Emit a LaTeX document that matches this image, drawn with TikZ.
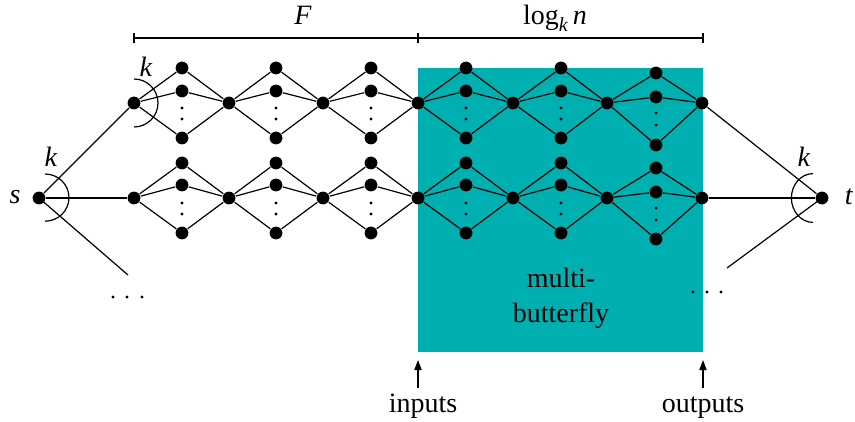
\documentclass[tikz,border=0pt]{standalone}
\usepackage{fontspec}
\setmainfont{Liberation Serif}
\usetikzlibrary{arrows.meta}
\definecolor{tealbox}{RGB}{0,176,176}
\begin{document}
\begin{tikzpicture}[x=0.5pt,y=-0.5pt,line width=0.6pt,
  dot/.style={circle,fill=black,inner sep=0pt,minimum size=6.4pt},
  tinydot/.style={circle,fill=black,inner sep=0pt,minimum size=1.7pt},
  lbl/.style={font=\fontsize{14}{16}\selectfont,inner sep=0pt},
  arr/.style={-{Triangle[length=5pt,width=3.6pt]}}]
\useasboundingbox (0,0) rectangle (855,422);
% multibutterfly box
\fill[tealbox] (418,68) rectangle (703,352);
% hubs
\foreach \i/\x in {0/134,1/229,2/323,3/418,4/513,5/607,6/702}{
  \node[dot] (T\i) at (\x,103) {};
  \node[dot] (B\i) at (\x,198) {};
}
% fan nodes
\foreach \c/\x/\ta/\tb/\td/\te/\tc/\ba/\bb/\bd/\be/\bc in {
  1/182/68/91/108/119/138/163/185/203/214/233,
  2/276/68/91/108/119/138/163/185/203/214/233,
  3/371/68/91/108/119/138/163/185/203/214/233,
  4/466/68/91/108/119/138/163/185/203/214/233,
  5/561/68/91/108/119/138/163/185/203/214/233,
  6/656/73/97/113/125/145/168/192/208/220/239}{
  \node[dot] (T\c a) at (\x,\ta) {};
  \node[dot] (T\c b) at (\x,\tb) {};
  \node[dot] (T\c c) at (\x,\tc) {};
  \node[tinydot] (T\c d) at (\x,\td) {};
  \node[tinydot] (T\c e) at (\x,\te) {};
  \node[dot] (B\c a) at (\x,\ba) {};
  \node[dot] (B\c b) at (\x,\bb) {};
  \node[dot] (B\c c) at (\x,\bc) {};
  \node[tinydot] (B\c d) at (\x,\bd) {};
  \node[tinydot] (B\c e) at (\x,\be) {};
}
% butterfly edges
\foreach \c [evaluate=\c as \p using int(\c-1)] in {1,...,6}{
  \foreach \r in {T,B}{
    \foreach \f in {a,b,c}{
      \draw (\r\p) -- (\r\c\f) -- (\r\c);
    }
  }
}
% source and sink
\node[dot] (s) at (39,198) {};
\node[dot] (t) at (822,198) {};
\coordinate (sl) at (128,275);
\coordinate (tl) at (727,268);
\draw (s) -- (T0);
\draw (s) -- (B0);
\draw (s.center) -- (sl);
\draw (t) -- (T6);
\draw (t) -- (B6);
\draw (t.center) -- (tl);
% degree arcs
\draw ([shift={(6,0)}]s.center) ++(0pt,12pt) arc[start angle=90,end angle=-90,x radius=12pt,y radius=11.8pt];
\draw (T0.center) ++(0pt,12pt) arc[start angle=90,end angle=-90,radius=12pt];
\draw ([shift={(-9,0)}]t.center) ++(0pt,12.2pt) arc[start angle=90,end angle=270,x radius=10.8pt,y radius=12.2pt];
% ellipses
\foreach \x [count=\j] in {113,127,142}{\node[tinydot] (ls\j) at (\x,297) {};}
\foreach \x [count=\j] in {693,707,721}{\node[tinydot] (rs\j) at (\x,292) {};}
% labels
\node[lbl] (sL) at (15,197) {\textit{s}};
\node[lbl] (tL) at (849,197) {\textit{t}};
\node[lbl] (k1) at (51,157) {\textit{k}};
\node[lbl] (k2) at (146,67) {\textit{k}};
\node[lbl] (k3) at (804,157) {\textit{k}};
% brackets
\coordinate (f0) at (134,38);
\coordinate (f1) at (418,38);
\coordinate (f2) at (703,38);
\draw (f0) -- (f2);
\foreach \p in {f0,f1,f2}{\draw ([yshift=-2.5pt]\p) -- ([yshift=2.5pt]\p);}
\node[lbl,anchor=base] (Fl) at (303,25) {\textit{F}};
\node[lbl,anchor=base] (Ll) at (555,25) {log\raisebox{-3.5pt}{\fontsize{10}{12}\selectfont\textit{k}}\,\textit{n}};
% box text
\node[lbl,align=center] (mb) at (561,298) {multi-\\[1.5pt]butterfly};
% inputs / outputs
\node[lbl,anchor=base] (inp) at (423,412) {inputs};
\node[lbl,anchor=base] (outp) at (703,412) {outputs};
\coordinate (ia) at (418,388);
\coordinate (ib) at (418,360);
\coordinate (oa) at (703,388);
\coordinate (ob) at (703,360);
\draw[arr] (ia) -- (ib);
\draw[arr] (oa) -- (ob);
\end{tikzpicture}
\end{document}
